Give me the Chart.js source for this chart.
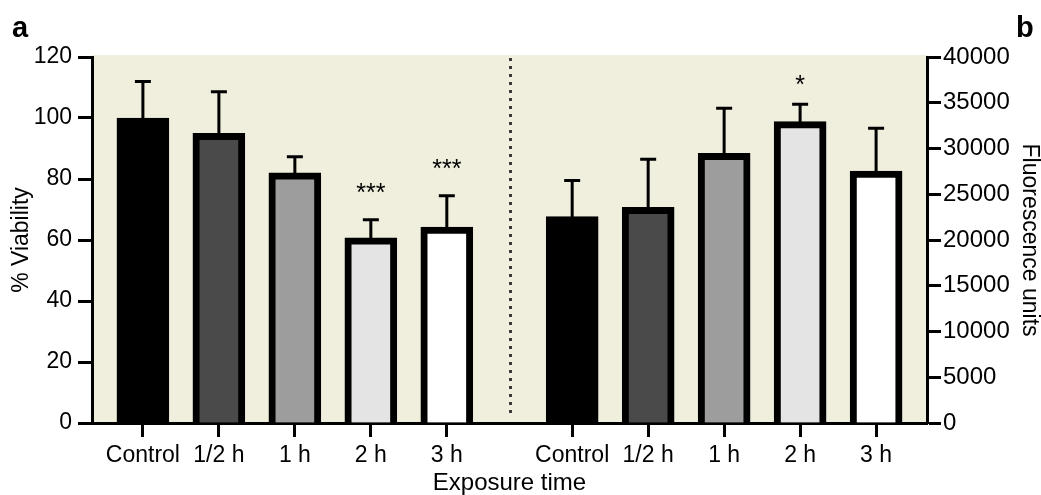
<!DOCTYPE html>
<html>
<head>
<meta charset="utf-8">
<script src="https://cdn.jsdelivr.net/npm/chart.js@4.4.0/dist/chart.umd.min.js"></script>
<style>
  html, body { margin: 0; padding: 0; background: #fff; }
  canvas { display: block; }
</style>
</head>
<body>
<canvas id="exposureChart" width="1041" height="495"></canvas>
<script>
// data
const categories = ["Control", "1/2 h", "1 h", "2 h", "3 h"];
const viability = [100, 95, 82, 60.7, 64.2];
const viabilityErrTop = [112, 108.6, 87.3, 66.6, 74.5];
const viabilitySig = ["", "", "", "***", "***"];
const fluorescence = [22550, 23570, 29470, 32930, 27540];
const fluorescenceErrTop = [26500, 28820, 34390, 34830, 32200];
const fluorescenceSig = ["", "", "", "*", ""];

const barColors = ["#000000", "#4a4a4a", "#9d9d9d", "#e4e4e4", "#ffffff"];
const PANEL_OFFSET = 5.65; // where panel b starts on the x scale
const FONT = "'Liberation Sans', Arial, sans-serif";

const leftPoints = categories.map((c, i) => ({ x: i, y: viability[i] }));
const rightPoints = categories.map((c, i) => ({ x: i + PANEL_OFFSET, y: fluorescence[i] }));
const tickPositions = leftPoints.concat(rightPoints).map(p => p.x);

const errTops = [viabilityErrTop, fluorescenceErrTop];
const sigs = [viabilitySig, fluorescenceSig];
const sigGap = [19, 11];

const decorations = {
    id: "decorations",
    beforeDraw(chart) {
        const { ctx, chartArea: a } = chart;
        ctx.save();
        ctx.fillStyle = "#f0eedc";
        ctx.fillRect(a.left, a.top - 2, a.right - a.left, a.bottom - a.top + 2);

        // dotted divider between the two panels
        const x = Math.round(chart.scales.x.getPixelForValue((categories.length - 1 + PANEL_OFFSET) / 2)) + 0.5;
        ctx.strokeStyle = "#3a3a3a";
        ctx.lineWidth = 3;
        ctx.setLineDash([3, 5]);
        ctx.beginPath();
        ctx.moveTo(x, a.top + 1);
        ctx.lineTo(x, a.bottom - 6);
        ctx.stroke();
        ctx.restore();
    },
    afterDatasetsDraw(chart) {
        const { ctx } = chart;
        ctx.save();
        chart.data.datasets.forEach((ds, di) => {
            const meta = chart.getDatasetMeta(di);
            const yScale = chart.scales[ds.yAxisID];
            meta.data.forEach((bar, i) => {
                const top = yScale.getPixelForValue(errTops[di][i]);
                ctx.strokeStyle = "#000";
                ctx.lineWidth = 3;
                ctx.beginPath();
                ctx.moveTo(bar.x, bar.y + 4);
                ctx.lineTo(bar.x, top);
                ctx.moveTo(bar.x - 8, top);
                ctx.lineTo(bar.x + 8, top);
                ctx.stroke();

                if (sigs[di][i]) {
                    ctx.fillStyle = "#000";
                    ctx.font = "25px " + FONT;
                    ctx.textAlign = "center";
                    ctx.textBaseline = "alphabetic";
                    ctx.fillText(sigs[di][i], bar.x, top - sigGap[di]);
                }
            });
        });
        ctx.restore();
    },
    afterDraw(chart) {
        const { ctx } = chart;
        ctx.save();
        ctx.fillStyle = "#000";
        ctx.font = "bold 29px " + FONT;
        ctx.textBaseline = "alphabetic";
        ctx.textAlign = "left";
        ctx.fillText("a", 12, 37);
        ctx.fillText("b", 1016, 37);
        ctx.restore();
    }
};

const tickFont = { family: FONT, size: 23 };

new Chart(document.getElementById("exposureChart"), {
    type: "bar",
    data: {
        datasets: [{
            label: "% Viability",
            data: leftPoints,
            yAxisID: "y",
            stack: "all",
            backgroundColor: barColors,
            borderColor: "#000",
            borderWidth: 7,
            borderSkipped: "start",
            barThickness: 52
        }, {
            label: "Fluorescence units",
            data: rightPoints,
            yAxisID: "y1",
            stack: "all",
            backgroundColor: barColors,
            borderColor: "#000",
            borderWidth: 7,
            borderSkipped: "start",
            barThickness: 52
        }]
    },
    options: {
        responsive: false,
        animation: false,
        layout: { padding: { top: 57, left: 0, right: 0, bottom: 0 } },
        plugins: {
            legend: { display: false },
            tooltip: { enabled: false }
        },
        scales: {
            x: {
                type: "linear",
                offset: false,
                min: -0.67,
                max: 10.32,
                afterBuildTicks: scale => {
                    scale.ticks = tickPositions.map(v => ({ value: v }));
                },
                afterFit: scale => { scale.height = 72; },
                ticks: {
                    autoSkip: false,
                    maxRotation: 0,
                    padding: 5,
                    color: "#000",
                    font: tickFont,
                    callback: (value, index) => categories[index % categories.length]
                },
                grid: {
                    offset: false,
                    drawOnChartArea: false,
                    drawTicks: true,
                    tickLength: 14,
                    tickWidth: 3,
                    tickColor: "#000"
                },
                border: { display: true, color: "#000", width: 3 },
                title: {
                    display: true,
                    text: "Exposure time",
                    color: "#000",
                    font: { family: FONT, size: 24, lineHeight: 1 },
                    padding: { top: 0, bottom: 0 }
                }
            },
            y: {
                position: "left",
                min: 0,
                max: 120,
                stacked: false,
                afterFit: scale => { scale.width = 92; },
                ticks: { stepSize: 20, padding: 6, color: "#000", font: tickFont },
                grid: {
                    drawOnChartArea: false,
                    tickLength: 14,
                    tickWidth: 3,
                    tickColor: "#000"
                },
                border: { display: true, color: "#000", width: 3 },
                title: {
                    display: true,
                    text: "% Viability",
                    color: "#000",
                    font: { family: FONT, size: 23, lineHeight: 1.2 },
                    padding: { top: 8, bottom: 0 }
                }
            },
            y1: {
                position: "right",
                min: 0,
                max: 40000,
                stacked: false,
                afterFit: scale => { scale.width = 114; },
                ticks: {
                    stepSize: 5000,
                    padding: 2,
                    color: "#000",
                    font: { family: FONT, size: 24 },
                    callback: value => String(value)
                },
                grid: {
                    drawOnChartArea: false,
                    tickLength: 14,
                    tickWidth: 3,
                    tickColor: "#000"
                },
                border: { display: true, color: "#000", width: 3 },
                title: {
                    display: true,
                    text: "Fluorescence units",
                    color: "#000",
                    font: { family: FONT, size: 23, lineHeight: 1 },
                    padding: { top: 0, bottom: 0 }
                }
            }
        }
    },
    plugins: [decorations]
});
</script>
</body>
</html>
